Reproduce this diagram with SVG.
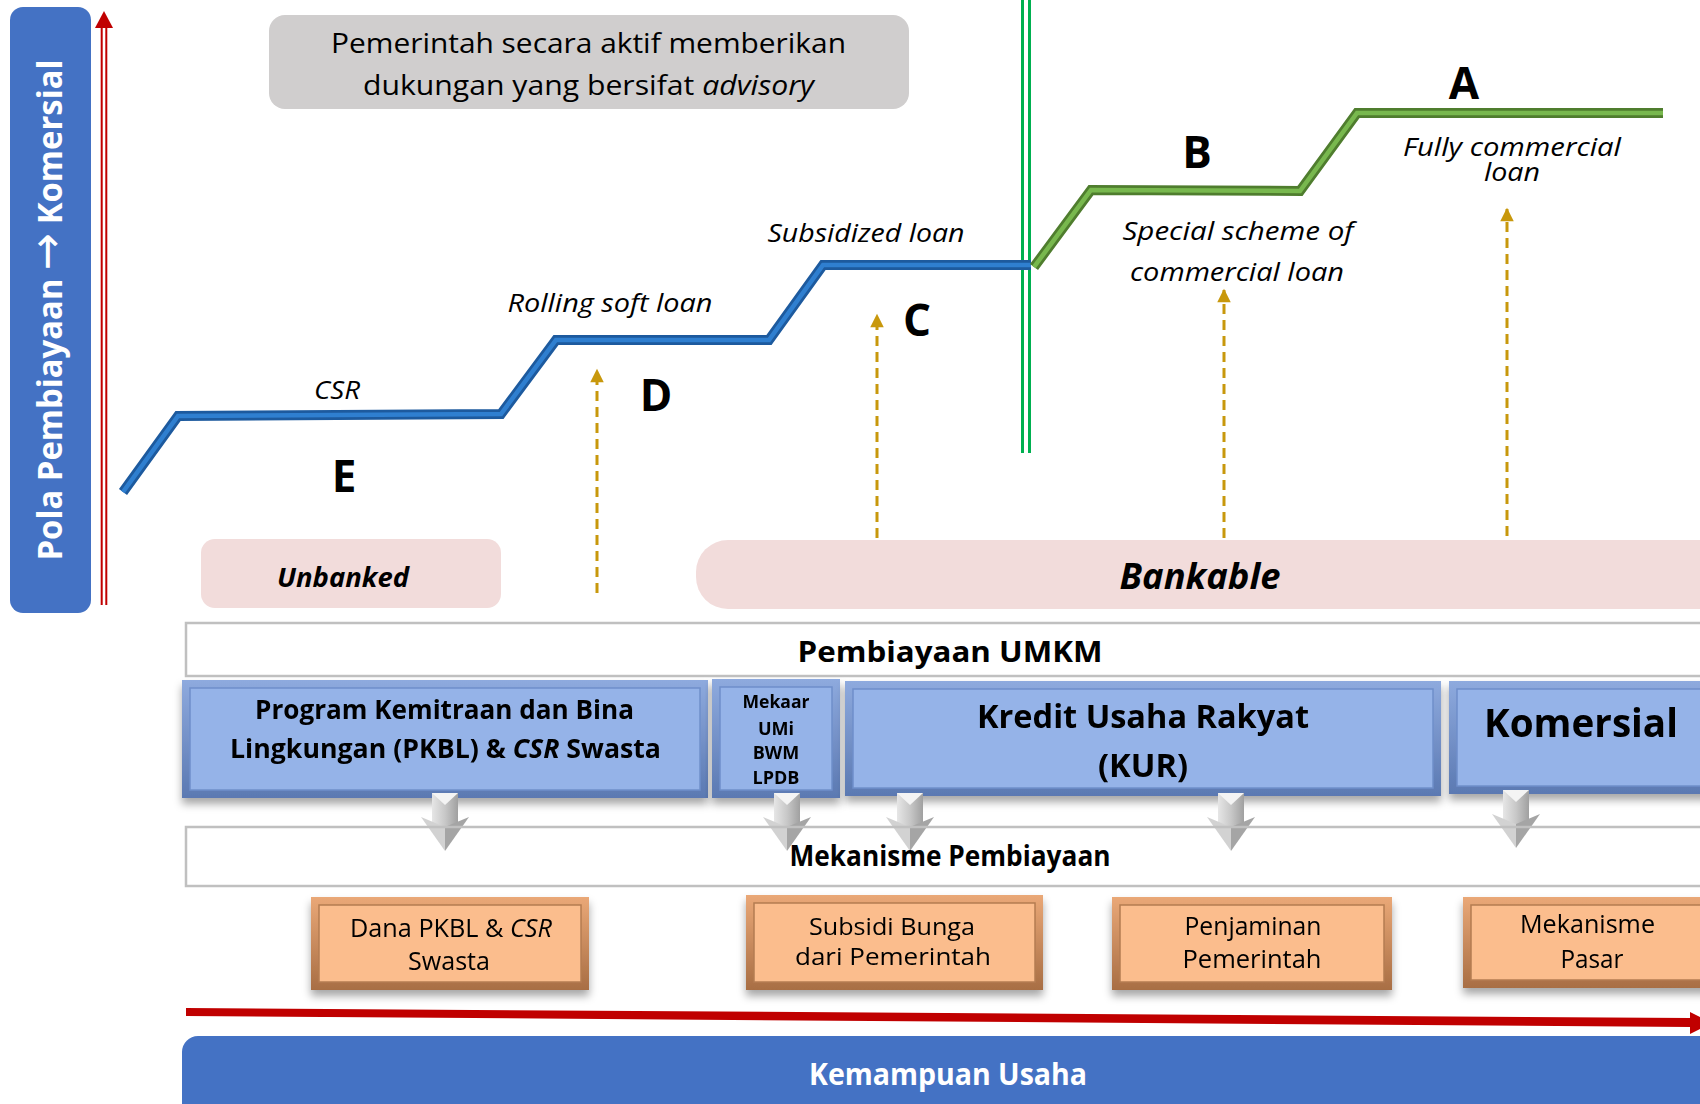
<svg xmlns="http://www.w3.org/2000/svg" width="1700" height="1104" viewBox="0 0 1700 1104">
<defs>
<style>
text{font-family:"Open Sans","Noto Sans","DejaVu Sans",sans-serif;fill:#000;text-anchor:middle}
.b{font-weight:bold}
.i{font-style:italic}
.lbl{font-style:italic;font-size:25px}
.big{font-weight:bold;font-size:44px}
.wt{fill:#fff}
.frameB{fill:url(#gB)}
.innerB{fill:#95b3e8;stroke:#6f8fca;stroke-width:1.5}
.frameO{fill:url(#gO)}
.innerO{fill:#fbbd8d;stroke:#b47c52;stroke-width:1.5}
.dash{stroke:#c8980c;stroke-width:3;stroke-dasharray:10 6;fill:none}
.box{fill:none;stroke:#c0c0c0;stroke-width:2.5}
</style>
<linearGradient id="gB" x1="0" y1="0" x2="0" y2="1">
<stop offset="0" stop-color="#8eaade"/><stop offset="1" stop-color="#5b79b2"/>
</linearGradient>
<linearGradient id="gO" x1="0" y1="0" x2="0" y2="1">
<stop offset="0" stop-color="#eaa877"/><stop offset="1" stop-color="#a86e44"/>
</linearGradient>
<linearGradient id="gShaft" x1="0" y1="0" x2="1" y2="0">
<stop offset="0" stop-color="#e6e6e6"/><stop offset="0.5" stop-color="#c8c8c8"/><stop offset="1" stop-color="#a0a0a0"/>
</linearGradient>
<filter id="sh" x="-5%" y="-10%" width="110%" height="130%">
<feDropShadow dx="0" dy="6" stdDeviation="4" flood-color="#000" flood-opacity="0.35"/>
</filter>
<marker id="gold" viewBox="0 0 10 10" refX="9" refY="5" markerWidth="5" markerHeight="4.5" orient="auto" markerUnits="strokeWidth">
<path d="M0,0 L10,5 L0,10 Z" fill="#c8980c"/>
</marker>
<g id="darr">
<rect x="-13" y="0" width="26" height="34" fill="url(#gShaft)"/>
<polygon points="-13,0 13,0 0,12" fill="#f4f4f4"/>
<polygon points="-24,24 0,34 0,58" fill="#d2d2d2"/>
<polygon points="24,24 0,34 0,58" fill="#a5a5a5"/>
</g>
</defs>

<rect width="1700" height="1104" fill="#fff"/>

<!-- vertical axis -->
<g id="axis-y">
<rect x="10" y="7" width="81" height="606" rx="13" fill="#4472c4"/>
<text class="b wt" font-size="34" transform="translate(62,310) rotate(-90)" textLength="501" lengthAdjust="spacingAndGlyphs">Pola Pembiayaan <tspan font-family="DejaVu Sans" font-weight="normal" font-size="46">→</tspan> Komersial</text>
<line x1="101.7" y1="26" x2="101.7" y2="605" stroke="#c00000" stroke-width="2"/>
<line x1="106.3" y1="26" x2="106.3" y2="605" stroke="#c00000" stroke-width="2"/>
<polygon points="95,28 104,11 113,28" fill="#c00000"/>
</g>

<!-- advisory note -->
<g id="note">
<rect x="269" y="15" width="640" height="94" rx="16" fill="#d0cece"/>
<text x="588.5" y="53" font-size="28" textLength="515" lengthAdjust="spacingAndGlyphs" fill="#111">Pemerintah secara aktif memberikan</text>
<text x="588.5" y="95" font-size="28" textLength="451" lengthAdjust="spacingAndGlyphs" fill="#111">dukungan yang bersifat <tspan class="i">advisory</tspan></text>
</g>

<!-- green divider -->
<g id="divider">
<line x1="1022.5" y1="0" x2="1022.5" y2="453" stroke="#00b050" stroke-width="3"/>
<line x1="1029.5" y1="0" x2="1029.5" y2="453" stroke="#00b050" stroke-width="3"/>
</g>

<!-- step lines -->
<g id="steps" fill="none" stroke-linejoin="miter">
<polyline points="123,492 178,416 501,414 556,340 769,340 823,265 1031,265" stroke="#1d5a9e" stroke-width="10"/>
<polyline points="123,492 178,416 501,414 556,340 769,340 823,265 1031,265" stroke="#2f7fd0" stroke-width="4.5"/>
<polyline points="1034,267 1091,190 1300,191 1357,113 1663,113" stroke="#4f7d2e" stroke-width="10"/>
<polyline points="1034,267 1091,190 1300,191 1357,113 1663,113" stroke="#78b84e" stroke-width="4.5"/>
</g>

<!-- stage labels -->
<g id="stage-E">
<text class="lbl" x="337" y="399" textLength="46" lengthAdjust="spacingAndGlyphs">CSR</text>
<text class="big" x="344" y="492">E</text>
</g>
<g id="stage-D">
<text class="lbl" x="610" y="312" textLength="205" lengthAdjust="spacingAndGlyphs">Rolling soft loan</text>
<text class="big" x="656" y="411">D</text>
</g>
<g id="stage-C">
<text class="lbl" x="866" y="242" textLength="197" lengthAdjust="spacingAndGlyphs">Subsidized loan</text>
<text class="big" x="917" y="336">C</text>
</g>
<g id="stage-B">
<text class="lbl" x="1238" y="240" textLength="231" lengthAdjust="spacingAndGlyphs">Special scheme of</text>
<text class="lbl" x="1237" y="281" textLength="214" lengthAdjust="spacingAndGlyphs">commercial loan</text>
<text class="big" x="1197" y="168">B</text>
</g>
<g id="stage-A">
<text class="lbl" x="1512" y="156" textLength="218" lengthAdjust="spacingAndGlyphs">Fully commercial</text>
<text class="lbl" x="1512" y="181" textLength="56" lengthAdjust="spacingAndGlyphs">loan</text>
<text class="big" x="1464" y="99">A</text>
</g>

<!-- segments -->
<g id="unbanked">
<rect x="201" y="539" width="300" height="69" rx="14" fill="#f2dcdb"/>
<text class="b i" x="343" y="587" font-size="26" textLength="132" lengthAdjust="spacingAndGlyphs">Unbanked</text>
</g>
<g id="bankable">
<rect x="696" y="540" width="1034" height="69" rx="32" fill="#f2dcdb"/>
<text class="b i" x="1200" y="589" font-size="36" textLength="161" lengthAdjust="spacingAndGlyphs">Bankable</text>
</g>

<!-- connectors -->
<g id="connectors">
<line class="dash" x1="597" y1="593" x2="597" y2="370" marker-end="url(#gold)"/>
<line class="dash" x1="877" y1="538" x2="877" y2="315" marker-end="url(#gold)"/>
<line class="dash" x1="1224" y1="538" x2="1224" y2="290" marker-end="url(#gold)"/>
<line class="dash" x1="1507" y1="536" x2="1507" y2="209" marker-end="url(#gold)"/>
<polygon points="186,1008 1690,1018 1690,1012 1712,1023 1690,1034 1690,1027 186,1016" fill="#c00000"/>
</g>

<!-- Pembiayaan UMKM header -->
<g id="pembiayaan-umkm">
<rect class="box" x="186" y="623" width="1540" height="53"/>
<text class="b" x="950" y="662" font-size="29" textLength="305" lengthAdjust="spacingAndGlyphs">Pembiayaan UMKM</text>
</g>

<!-- program boxes -->
<g id="pkbl" filter="url(#sh)">
<rect class="frameB" x="182" y="680" width="526" height="118"/>
<rect class="innerB" x="190" y="688" width="510" height="102"/>
<text class="b" x="444.5" y="719" font-size="27" textLength="379" lengthAdjust="spacingAndGlyphs">Program Kemitraan dan Bina</text>
<text class="b" x="445.5" y="758" font-size="27" textLength="431" lengthAdjust="spacingAndGlyphs">Lingkungan (PKBL) &amp; <tspan class="i">CSR</tspan> Swasta</text>
</g>
<g id="mekaar" filter="url(#sh)">
<rect class="frameB" x="712" y="679" width="128" height="119"/>
<rect class="innerB" x="720" y="687" width="112" height="103"/>
<text class="b" x="776" y="708" font-size="18" textLength="67" lengthAdjust="spacingAndGlyphs">Mekaar</text>
<text class="b" x="776" y="735" font-size="18">UMi</text>
<text class="b" x="776" y="759" font-size="18">BWM</text>
<text class="b" x="776" y="784" font-size="18">LPDB</text>
</g>
<g id="kur" filter="url(#sh)">
<rect class="frameB" x="845" y="681" width="596" height="115"/>
<rect class="innerB" x="853" y="689" width="580" height="99"/>
<text class="b" x="1143" y="728" font-size="33" textLength="332" lengthAdjust="spacingAndGlyphs">Kredit Usaha Rakyat</text>
<text class="b" x="1143" y="777" font-size="33" textLength="90" lengthAdjust="spacingAndGlyphs">(KUR)</text>
</g>
<g id="komersial" filter="url(#sh)">
<rect class="frameB" x="1449" y="681" width="280" height="113"/>
<rect class="innerB" x="1457" y="689" width="280" height="97"/>
<text class="b" x="1581" y="737" font-size="39" textLength="194" lengthAdjust="spacingAndGlyphs">Komersial</text>
</g>

<!-- gray down arrows -->
<g id="down-arrows">
<use href="#darr" x="445" y="793"/>
<use href="#darr" x="787" y="793"/>
<use href="#darr" x="910" y="793"/>
<use href="#darr" x="1231" y="793"/>
<use href="#darr" x="1516" y="790"/>
</g>

<!-- Mekanisme header -->
<g id="mekanisme-pembiayaan">
<rect class="box" x="186" y="827" width="1540" height="59"/>
<text class="b" x="950" y="866" font-size="28" textLength="321" lengthAdjust="spacingAndGlyphs">Mekanisme Pembiayaan</text>
</g>

<!-- mechanism boxes -->
<g id="dana" filter="url(#sh)">
<rect class="frameO" x="311" y="897" width="278" height="93"/>
<rect class="innerO" x="319" y="905" width="262" height="77"/>
<text x="451" y="937" font-size="25" textLength="202" lengthAdjust="spacingAndGlyphs">Dana PKBL &amp; <tspan class="i">CSR</tspan></text>
<text x="449" y="970" font-size="25" textLength="82" lengthAdjust="spacingAndGlyphs">Swasta</text>
</g>
<g id="subsidi" filter="url(#sh)">
<rect class="frameO" x="746" y="895" width="297" height="95"/>
<rect class="innerO" x="754" y="903" width="281" height="79"/>
<text x="892" y="935" font-size="23" textLength="166" lengthAdjust="spacingAndGlyphs">Subsidi Bunga</text>
<text x="893" y="965" font-size="23" textLength="196" lengthAdjust="spacingAndGlyphs">dari Pemerintah</text>
</g>
<g id="penjaminan" filter="url(#sh)">
<rect class="frameO" x="1112" y="897" width="280" height="93"/>
<rect class="innerO" x="1120" y="905" width="264" height="77"/>
<text x="1253" y="935" font-size="25" textLength="137" lengthAdjust="spacingAndGlyphs">Penjaminan</text>
<text x="1252" y="968" font-size="25" textLength="139" lengthAdjust="spacingAndGlyphs">Pemerintah</text>
</g>
<g id="pasar" filter="url(#sh)">
<rect class="frameO" x="1463" y="897" width="270" height="91"/>
<rect class="innerO" x="1471" y="905" width="270" height="75"/>
<text x="1587.5" y="933" font-size="25" textLength="135" lengthAdjust="spacingAndGlyphs">Mekanisme</text>
<text x="1592" y="968" font-size="25" textLength="63" lengthAdjust="spacingAndGlyphs">Pasar</text>
</g>

<!-- horizontal axis -->
<g id="axis-x">
<rect x="182" y="1036" width="1560" height="100" rx="16" fill="#4472c4"/>
<text class="b wt" x="948" y="1085" font-size="31" textLength="278" lengthAdjust="spacingAndGlyphs">Kemampuan Usaha</text>
</g>
</svg>
